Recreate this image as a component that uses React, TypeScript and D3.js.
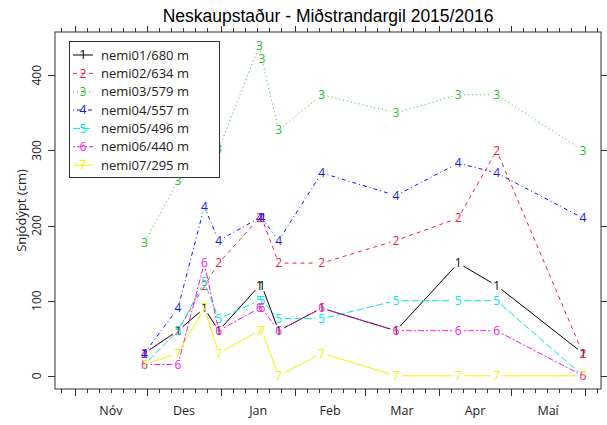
import React from "react";
import * as d3 from "d3";

const title = "Neskaupstaður - Miðstrandargil 2015/2016";
const yTitle = "Snjódýpt (cm)";
const dateStrings = [
  "2015-11-30", "2015-12-14", "2015-12-25", "2015-12-31", "2016-01-17", "2016-01-18",
  "2016-01-25", "2016-02-12", "2016-03-14", "2016-04-09", "2016-04-25", "2016-05-31",
];
const seriesNames = [
  "nemi01/680 m", "nemi02/634 m", "nemi03/579 m", "nemi04/557 m",
  "nemi05/496 m", "nemi06/440 m", "nemi07/295 m",
];
const nemi01 = [30, 60, 90, 60, 120, 120, 60, 90, 60, 150, 120, 30];
const nemi02 = [30, 60, 120, 150, 210, 210, 150, 150, 180, 210, 300, 30];
const nemi03 = [177, 260, null, 302, 440, 422, 327, 374, 350, 374, 374, 300];
const nemi04 = [30, 90, 225, 180, 210, 210, 180, 270, 240, 283, 270, 210];
const nemi05 = [15, 60, 125, 76, 100, 100, 76, 76, 100, 100, 100, 0];
const nemi06 = [15, 15, 150, 60, 90, 90, 60, 90, 60, 60, 60, 0];
const nemi07 = [15, 30, 90, 30, 60, 60, 0, 30, 0, 0, 0, 0];
const seriesValues = [nemi01, nemi02, nemi03, nemi04, nemi05, nemi06, nemi07];
const seriesColors = ["#000000", "#F0203F", "#2DBB2D", "#1515F0", "#00E8E8", "#F21CD2", "#F5F000"];
const seriesDash = ["", "4,4", "1,3", "1,3,4,3", "7,3", "2,2,6,2", ""];
const yTicks = [0, 100, 200, 300, 400];
const monthLabels = ["Nóv", "Des", "Jan", "Feb", "Mar", "Apr", "Maí"];
const monthStarts = [
  "2015-11-01", "2015-12-01", "2016-01-01", "2016-02-01", "2016-03-01", "2016-04-01", "2016-05-01", "2016-06-01",
];

const W = 607, H = 425;
const left = 55, right = 601, top = 32, bottom = 389;
const parse = (s: string) => {
  const [y, m, d] = s.split("-").map(Number);
  return new Date(y, m - 1, d);
};
const dates = dateStrings.map(parse);

export default function App() {
  const x = d3.scaleTime()
    .domain([new Date(2015, 9, 23, 16), new Date(2016, 5, 7, 14)])
    .range([left, right]);
  const y = d3.scaleLinear().domain([-17.6, 457.6]).range([bottom, top]);

  const dayTicks = d3.timeDay
    .range(x.domain()[0], x.domain()[1])
    .filter((d) => [1, 6, 11, 16, 21, 26].includes(d.getDate()));
  const starts = monthStarts.map(parse);
  const fontTick = "'Open Sans', sans-serif";
  const gap = 6;

  return (
    <div style={{ position: "fixed", left: 0, top: 0 }}>
      <svg width={W} height={H} style={{ display: "block", background: "#fff" }}>
        <rect x={0} y={0} width={W} height={H} fill="#fff" />
        <text x={(left + right) / 2} y={22} textAnchor="middle" fontFamily="'Liberation Sans', Arial, sans-serif" fontSize={17.5} fill="#000">
          {title}
        </text>
        {/* box */}
        <rect x={left} y={top} width={right - left} height={bottom - top} fill="none" stroke="#333" strokeWidth={1} />
        {/* x ticks bottom & top */}
        {dayTicks.map((d, i) => {
          const major = d.getDate() === 1;
          const px = Math.round(x(d)) + 0.5;
          return (
            <g key={"xt" + i} stroke="#333" strokeWidth={1}>
              <line x1={px} x2={px} y1={bottom} y2={bottom + (major ? 7 : 4)} />
              <line x1={px} x2={px} y1={top} y2={top - (major ? 6 : 4)} />
            </g>
          );
        })}
        {monthLabels.map((m, i) => {
          const mid = (x(starts[i]) + x(starts[i + 1])) / 2;
          return (
            <text key={"ml" + i} x={mid} y={415} textAnchor="middle" fontFamily={fontTick} fontSize={12.5} fill="#222">
              {m}
            </text>
          );
        })}
        {/* y ticks */}
        {yTicks.map((t) => {
          const py = Math.round(y(t)) + 0.5;
          return (
            <g key={"yt" + t}>
              <line x1={left - 7} x2={left} y1={py} y2={py} stroke="#333" />
              <line x1={right} x2={right + 6} y1={py} y2={py} stroke="#333" />
              <text
                transform={`translate(${left - 14},${y(t)}) rotate(-90)`}
                textAnchor="middle"
                fontFamily={fontTick}
                fontSize={12}
                fill="#222"
              >
                {t}
              </text>
            </g>
          );
        })}
        <text
          transform={`translate(26,${(top + bottom) / 2}) rotate(-90)`}
          textAnchor="middle"
          fontFamily={fontTick}
          fontSize={13}
          fill="#222"
        >
          {yTitle}
        </text>
        {/* series */}
        {seriesValues.map((vals, si) => {
          const pts = vals.map((v, i) => (v === null ? null : [x(dates[i]), y(v as number)]));
          const segs: React.ReactNode[] = [];
          for (let i = 0; i < pts.length - 1; i++) {
            const a = pts[i], b = pts[i + 1];
            if (!a || !b) continue;
            const dx = b[0] - a[0], dy = b[1] - a[1];
            const L = Math.hypot(dx, dy);
            if (L <= 2 * gap) continue;
            const ux = dx / L, uy = dy / L;
            segs.push(
              <line
                key={"s" + si + "-" + i}
                x1={a[0] + ux * gap}
                y1={a[1] + uy * gap}
                x2={b[0] - ux * gap}
                y2={b[1] - uy * gap}
                stroke={seriesColors[si]}
                strokeWidth={1}
                strokeDasharray={seriesDash[si] || undefined}
              />
            );
          }
          return (
            <g key={"ser" + si}>
              {segs}
              {pts.map((p, i) =>
                p ? (
                  <text
                    key={"p" + si + "-" + i}
                    x={p[0]}
                    y={p[1]}
                    dy="0.36em"
                    textAnchor="middle"
                    fontFamily={fontTick}
                    fontSize={12}
                    fill={seriesColors[si]}
                  >
                    {si + 1}
                  </text>
                ) : null
              )}
            </g>
          );
        })}
        {/* legend */}
        <g>
          <rect x={69.5} y={41.5} width={150} height={136} fill="#fff" stroke="#333" strokeWidth={1} />
          {seriesNames.map((n, i) => {
            const ly = 55 + i * 18.35;
            return (
              <g key={"lg" + i}>
                <line x1={73} x2={93} y1={ly} y2={ly} stroke={seriesColors[i]} strokeDasharray={seriesDash[i] || undefined} />
                <text x={83} y={ly} dy="0.36em" textAnchor="middle" fontFamily={fontTick} fontSize={12} fill={seriesColors[i]}>
                  {i + 1}
                </text>
                <text x={101} y={ly} dy="0.36em" fontFamily={fontTick} fontSize={13} fill="#222">
                  {n}
                </text>
              </g>
            );
          })}
        </g>
      </svg>
    </div>
  );
}
